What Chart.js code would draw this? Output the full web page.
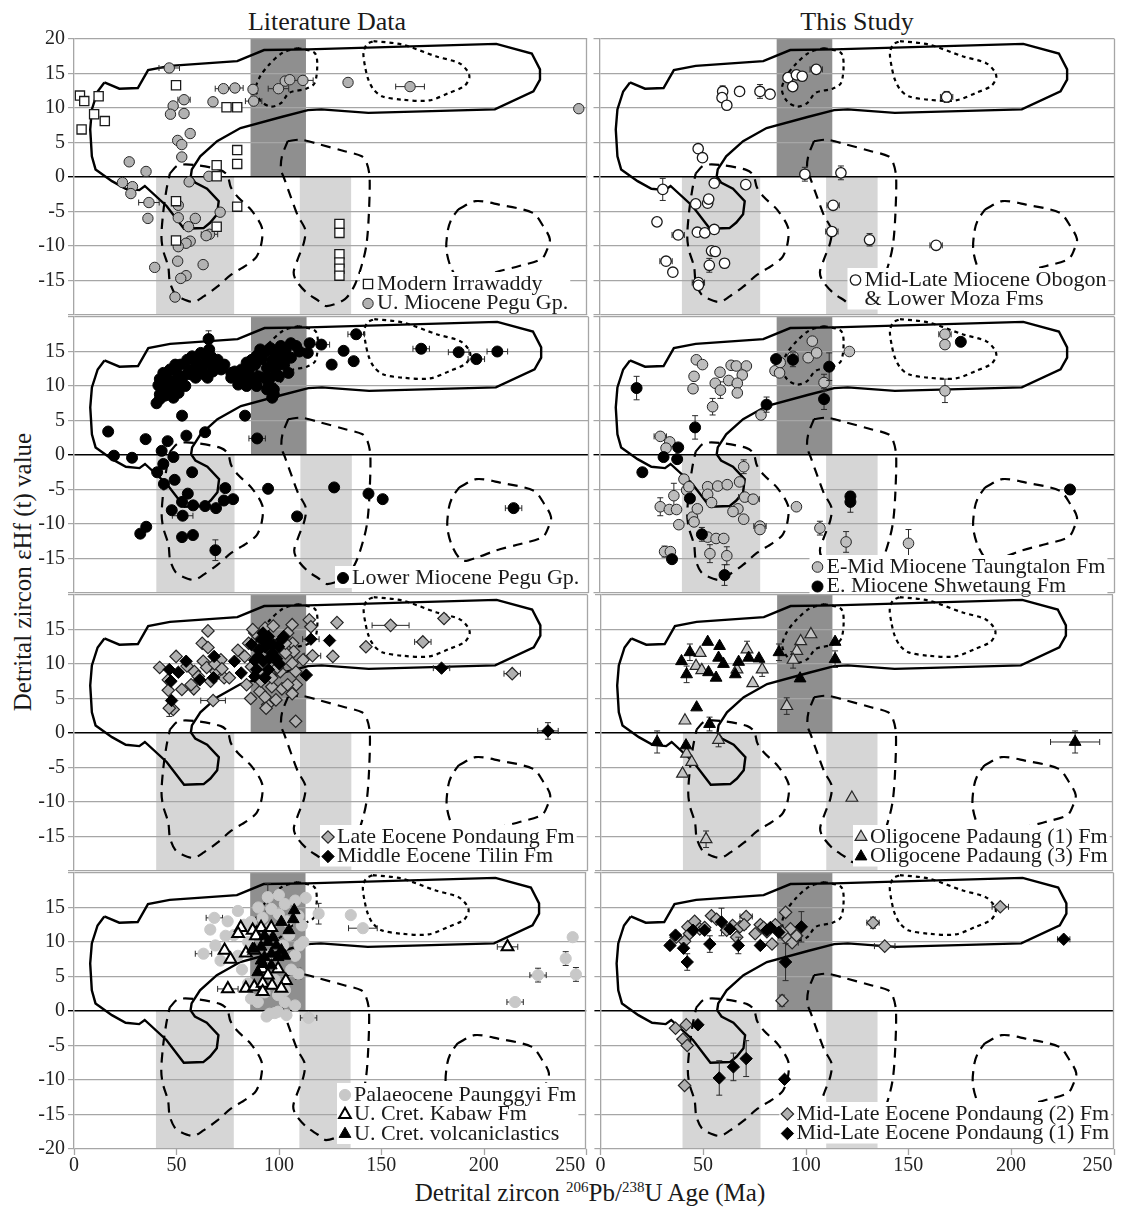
<!DOCTYPE html>
<html>
<head>
<meta charset="utf-8">
<title>Detrital zircon εHf (t) versus U-Pb age</title>
<script src="https://cdn.jsdelivr.net/npm/chart.js@4.4.1/dist/chart.umd.min.js"></script>
<style>
  html, body { margin: 0; padding: 0; background: #ffffff; }
  body { position: relative; width: 1121px; height: 1208px; overflow: hidden;
         font-family: "Liberation Serif", "Times New Roman", serif; color: #1a1a1a; }
  canvas { position: absolute; }
  .lbl { position: absolute; white-space: nowrap; line-height: 1; }
  .lbl sup { font-size: 15px; vertical-align: 0.55em; line-height: 0; }
</style>
</head>
<body>
<div class="lbl" style="left:327px; top:22px; font-size:26px; transform:translate(-50%,-50%);">Literature Data</div>
<div class="lbl" style="left:857px; top:22px; font-size:26px; transform:translate(-50%,-50%);">This Study</div>
<div class="lbl" style="left:22px; top:572px; font-size:25px; transform:translate(-50%,-50%) rotate(-90deg);">Detrital zircon εHf (t) value</div>
<div class="lbl" style="left:590px; top:1192px; font-size:25px; transform:translate(-50%,-50%);">Detrital zircon <sup>206</sup>Pb/<sup>238</sup>U Age (Ma)</div>

<script>
const FONT = '"Liberation Serif", "Times New Roman", serif';

// ---- axis ticks -------------------------------------------------------
const ageTicks = [0, 50, 100, 150, 200, 250];
const hfLabelsTop = [20, 15, 10, 5, 0, -5, -10, -15];
const hfLabelsMid = [15, 10, 5, 0, -5, -10, -15];
const hfLabelsBottom = [15, 10, 5, 0, -5, -10, -15, -20];

// ---- reference age windows (Ma) ----------------------------------------
const lightBands = [[40, 78], [110, 135]];   // shaded below eHf = 0
const darkBand = [86, 113];                   // shaded above eHf = 0

// ---- source-field outlines: [age Ma, eHf] -------------------------------
const solidOutline = [
  [14.8,13.7],[22.1,12.8],[31.1,12.9],[36.1,15.5],[46.7,16.1],[79.5,16.8],[92.6,18.4],
  [113.9,18.5],[205.7,19.3],[223,17.9],[227,15.6],[227,14.1],[223.8,12.4],[205,9.8],
  [143.4,9.3],[120.5,9.8],[113.9,9.7],[101,8.7],[81.1,7.1],[69.7,5.2],[61.5,3.0],
  [57.4,1.1],[56.9,0.1],[59,-0.8],[64.8,-1.7],[70.5,-3.5],[69.7,-5.4],[66.4,-6.6],
  [63.1,-7.4],[53.6,-7.5],[45.1,-4.2],[34.5,-1.3],[31.8,-1.9],[25.2,-1.7],[18.5,-0.6],
  [10.5,1.1],[8.7,3.0],[7.9,6.9],[8.7,9.8],[11.5,12.4],[14.8,13.7]
];
const dottedOutlineA = [
  [109,18.7],[117.2,18.0],[118.5,16.3],[117.2,13.6],[113.1,12.8],[104.9,12.2],[100.8,10.7],
  [95.9,10.2],[91,11.0],[88.5,12.7],[90.7,14.6],[95.1,16.3],[101.6,18.0],[109,18.7]
];
const dottedOutlineB = [
  [145.9,19.7],[159.8,19.2],[176.2,17.5],[187.7,16.5],[191.8,15.3],[192.6,14.4],[190.2,13.2],
  [182.8,12.2],[173,11.1],[159.8,11.2],[150,11.7],[145.9,12.7],[143.4,14.1],[141.8,16.0],
  [141,18.0],[142.6,19.2],[145.9,19.7]
];
const dashedOutlineA = [
  [46.7,0.5],[50.8,1.7],[59.9,1.7],[71.5,1.0],[74.8,0.2],[76.4,-1.5],[79.8,-2.9],[86.4,-4.8],
  [91.5,-7.3],[91.3,-9.6],[88.8,-11.6],[83.9,-12.8],[76.4,-14.2],[69.8,-15.9],[63.2,-17.3],
  [58.3,-18.1],[52.5,-17.6],[49.2,-16.9],[46.7,-15.2],[45.9,-13.0],[43.4,-10.6],[42.6,-8.7],
  [43.4,-5.3],[45,-1.9],[46.7,0.5]
];
const dashedOutlineB = [
  [104.1,5.2],[110.7,5.4],[120,4.7],[131,3.8],[140.2,3.0],[142.6,2.0],[144,0],[143.6,-5.6],
  [142.6,-9.5],[141,-11.9],[137,-15.5],[132,-17.7],[123,-18.7],[118.9,-17.9],[113.1,-16.7],
  [108.2,-15.0],[107,-13.8],[109,-11.9],[112,-9.5],[112.6,-7.6],[109,-5.6],[104.9,-2.3],
  [102.5,-0.3],[100.8,1.1],[101.3,3.0],[104.1,5.2]
];
const dashedOutlineC = [
  [187.2,-4.7],[195.5,-3.5],[207,-4.0],[223.5,-5.2],[228.5,-7.1],[231.8,-9.0],[230.2,-10.7],
  [227.7,-11.9],[216.9,-12.9],[205.4,-13.8],[196.3,-14.8],[188.8,-15.3],[183.9,-13.3],
  [181.4,-10.5],[182.2,-7.6],[183.9,-6.1],[187.2,-4.7]
];

// ---- samples: [age Ma, eHf, ±age, ±eHf] ---------------------------------
const modernIrrawaddy = [
  [2.9,11.8],[5.0,11.0],[12.0,11.7],[9.8,9.1],[15.0,8.1],[3.7,6.9],[49.7,13.3],[74.3,10.1],
  [79.5,10.1],[79.5,3.9],[79.5,1.9],[69.5,1.7],[69.5,0.1],[79.5,-4.3],[69.5,-7.2],[49.7,-3.5],
  [49.7,-9.2],[129.3,-6.8],[129.3,-8.1],[129.3,-11.2],[129.3,-12.4],[129.3,-13.3],[129.3,-14.3]
];
const uMiocenePegu = [
  [46.4,15.8,5,0],[72.8,12.8,4,0],[78.4,12.9,4,0],[87.2,12.7],[87.5,11.0,4,0],[99.6,12.8,5,0],
  [102.9,13.9],[105.1,14.1],[111.5,14.0,5,0],[133.5,13.7],[163.7,13.1,7,0],[245.9,9.9],
  [48.3,10.3],[53.6,11.2,3,0],[47,9.1],[53.6,9.2],[67.7,10.9],[56.6,6.3],[50.5,5.3],[52.5,4.7],
  [52.5,2.9],[26.9,2.2],[35.1,0.8],[23.6,-0.8],[28.5,-1.4],[27.7,-2.4],[36.5,-3.7,5,0],[36,-6.0],
  [56.1,-0.7],[65.7,0.1],[50.8,-4.1],[71.2,-5.1],[50.8,-5.9],[59.1,-6.0],[55.8,-7.2],[66,-8.3,4,0],
  [64.4,-8.5],[56.6,-9.3],[54.6,-9.6],[50.8,-10.1],[39.3,-13.1],[50.5,-12.2],[62.9,-12.7],
  [54.6,-14.3],[52,-14.7],[49.2,-17.4]
];
const obogonMoza = [
  [59.8,12.4,0,0.8],[68,12.4,2,0],[77.9,12.4,0,1],[82.8,12.0,2,0],[59.5,11.5,2,0],[61.8,10.4,2,0],
  [91.5,14.4,2,0],[95.6,14.8],[98.4,14.6,2,0],[93.8,13.1],[105.2,15.6,3,0],[168.5,11.6,3,0.8],
  [47.9,4.1,0,0.6],[50,2.8],[30.7,-1.8,0,1.6],[55.7,-0.9],[71,-1.1],[99.7,0.4,0,1],[117.2,0.6,0,1],
  [113.4,-4.1,3,0],[46.7,-3.9],[52.5,-3.8],[53,-3.2],[55.7,-7.6],[47.5,-8.0],[51.1,-8.1],
  [38.2,-8.4,3,0],[27.9,-6.5,2,0],[112.8,-7.9,3,0],[131.1,-9.1,0,0.9],[163.4,-9.9,3,0],
  [54.4,-10.7],[56.2,-10.8],[60.7,-12.5],[53.3,-12.8,0,1],[32.3,-12.2,3,0],[35.6,-13.8],
  [48,-15.3,3,0.6],[48,-15.7]
];
const lowerMiocenePegu = [
  [65.4,16.8,0,1.2],[40.1,7.5],[52.5,5.7],[83.1,5.7],[16.6,3.4],[34.8,2.3],[45.5,2.0],[54.6,2.8],
  [63.7,3.3],[89,2.4,4,0],[19.4,-0.1],[28.2,-0.4],[42.6,0.6],[48.3,-0.3],[43.4,-1.3],[40.4,-2.5],
  [43.7,-4.2],[48.9,-3.6],[57.4,-2.5],[55.3,-5.6],[73.5,-4.8],[94.3,-4.9],[126.4,-4.7],
  [143.1,-5.6],[150,-6.4],[52.5,-6.8],[57.9,-7.3],[63.7,-7.4],[69,-7.7],[77.3,-6.4],[72.8,-6.6],
  [47.5,-8.0],[52.8,-8.8,5,0],[108.4,-8.9],[213.6,-7.7,4,0],[35.1,-10.4],[32.2,-11.4],
  [52.5,-11.9],[57.8,-11.6],[68.7,-13.8,0,1.5],
  [137.1,17.5,4,0],[120.2,16.0,4,0],[131,15.1],[125.2,13.1],[135.9,13.6],[168.7,15.4,4,0],
  [186.9,14.9,5,0],[195.5,13.9,4,0],[205.7,15.0,5,0],[113.6,14.8],[114.5,16.2],[105.4,16.2],
  [104.2,11.9],[96.3,8.3],
  [57.4,14.3],[61.6,14.8],[65.7,15.3],[69.8,13.8],[73.1,13.1],[64.9,13.3],[59.1,12.6],[63.2,11.7],
  [64.9,11.2],[67.4,12.1],[49.2,13.1],[51.7,13.1],[55.8,12.4],[56.6,11.7],[45.0,11.4],[43.4,10.0],
  [41,10.1],[48.3,10.6],[49.9,9.9],[51.7,10.6],[46.7,9.3],[44.2,8.6],[48.3,8.3],[45.0,10.7],
  [50.8,9.0],[41.7,8.8],
  [41.7,11.0],[43.4,11.9],[46.7,12.4],[50.0,11.9],[53.3,11.4],[55.0,13.8],[58.3,13.8],[59.9,13.4],
  [60.7,12.2],[62.4,12.6],[66.5,14.3],[68.2,12.9],[71.5,12.4],[64.0,14.3],[59.1,11.2],[54.1,10.0],
  [49.2,9.3],[45.9,10.0],[43.4,9.3],[41.7,8.1],
  [76.4,11.2],[79.8,10.2],[83.1,11.9],[85.5,12.6],[88,13.1],[89.6,11.4],[91.3,13.9],[92.9,15.0],
  [95.4,15.5],[97.9,14.6],[100.5,15.8],[102.9,15.3],[99.6,13.4],[93.8,12.6],[84.7,10.5],[88.8,10.0],
  [94.6,10.3],[97.1,9.5],[81.4,11.2],[86.4,11.2],[92.1,11.2],[99.6,11.4],[78.1,12.1],[105.4,14.1],
  [88.8,14.4],
  [76.4,11.9],[78.9,11.4],[81.4,12.4],[83.9,13.4],[86.4,13.8],[90.5,15.3],[96.3,13.8],[97.9,12.4],
  [101.2,14.3],[102.1,13.1],[83.9,10.0],[87.2,10.7],[95.4,11.2],[93.8,9.5],[97.1,8.8],[107.9,15.8],
  [109.5,15.0]
];
const taungtalon = [
  [47,13.8],[50,13.1],[45.9,11.4],[45.4,9.6],[54.9,7.0,0,1.2],[56.2,10.4],[58.7,9.4,0,1.2],[58.5,12.0],
  [63.9,13.0],[66.4,12.9],[71.3,12.9],[69.3,11.6],[62.7,10.8],[66.9,10.4],[66.9,9.0],[85.2,12.2],
  [87.7,13.4],[87.4,11.9],[93.9,14.3],[101.3,14.1],[103.3,16.5],[105.4,14.8],[109,10.5,0,1.2],
  [121.3,15.0],[167.7,17.5,3,0],[167.7,16.0],[167.7,9.3,0,1.7],[78.4,5.8],[29.5,2.7,3,0],[34.1,1.9],
  [32.3,1.0],[70,-1.7,0,1],[41,-3.5],[36.1,-5.9,0,1.8],[42.3,-5.1],[43.4,-4.6],[52.5,-4.6],
  [57.4,-4.5],[62,-4.3],[68,-3.9],[52.5,-5.7],[54.4,-6.9],[70.5,-6.1,3,0],[74.6,-6.4,3,0],
  [67.2,-7.8],[64.8,-8.2],[70,-9.3],[77.9,-10.3,3,0],[77.9,-10.8],[95.6,-7.5],[29.5,-7.5,0,1.3],
  [33.9,-7.9],[37.4,-7.9],[38.5,-10.1],[45.1,-9.0],[45.9,-9.7],[47.5,-7.8],[52.5,-11.9],
  [56.6,-12.1],[60.3,-12.1],[53.6,-14.3,0,1.3],[61.8,-14.6,0,1.3],[31.6,-14.0,0,0.8],[34.4,-14.0],
  [107,-10.6,0,1],[119.7,-12.6,0,1.5],[150,-12.8,0,2]
];
const shwetaung = [
  [18,9.7,0,1.7],[46.4,4.0,0,1.7],[81.1,7.3,0,1.1],[85.7,13.9],[93.9,13.8,0,1],[111.5,12.8,0,2],
  [109,8.1,0,1.5],[175.4,16.4],[38.2,1.1],[31.1,-0.3],[37.7,-0.6],[20.8,-2.5],[43.9,-6.3],
  [49.7,-11.5,0,1],[35.2,-15.1],[60.7,-17.4,0,1.5],[121.8,-6.0],[121.8,-6.8,0,1.5],[228.4,-5.0]
];
const pondaungLate = [
  [65.2,14.8],[62.4,13.0],[65.2,12.4],[49.7,11.1],[41.7,9.5],[45.9,7.7],[52.5,6.3],[58.3,6.4],
  [45.9,6.2],[48.3,3.4],[46.4,3.6,0,1.2],[67.7,4.7,6,0],[58.6,8.9],[62.9,10.4],[64.6,9.5],[69,8.9],
  [66.5,7.5],[71.5,10.6],[73.1,8.0],[75.6,8.0],[79.8,12.0],[83.1,11.1],[88,14.5],[93,15.2],
  [106.2,15.7],[114.5,16.4],[115.3,15.4],[128,16.0],[106.4,13.0],[106.9,11.8],[111.5,10.6],
  [116.1,11.2,4,0],[126,11.1],[154.1,15.6,9,0],[169.8,13.2,4,0],[180.1,16.6],[142.1,12.5],
  [213.3,8.6,4,0],[107.9,1.7],[107.9,8.9],[108.2,7.0],[106.2,5.7],[101.2,6.4],[96.3,6.7],
  [90.5,6.0],[94.3,4.1],[98.3,4.8],[93,5.2],[100.4,8.9],[96.3,8.0],[89.7,8.9],[86.4,9.6],
  [102.9,11.6],[106.2,10.1],[93.5,3.6],[102.9,13.0],[55,9.7],[60.5,8.2],[68.5,10.0],[72,9.3],[57,7.0],
  [85,13],[87,15],[97,15.5],[104,14.5],[99,9.5],[91,7.5],[104,7],[84,7],[86,5]
];
const tilin = [
  [46.4,9.2],[50.8,8.8],[54.6,10.4],[47.2,7.5],[47.5,4.7],[61.2,7.7],[68.2,11.1],[67.9,8.0],
  [78.1,10.4],[81.4,8.7],[86.4,12.8],[88.8,9.2],[91.3,13.5],[94.6,14.0],[93,12.5],[96.3,11.6],
  [89.7,11.1],[92.1,10.4],[94.6,9.2],[88,8.2],[93,8.0],[102.1,14.0],[99.6,12.5],[115.3,13.6,4,0],
  [124.4,13.4],[113.1,8.4],[178.9,9.4,4,0],[230.7,0.3,5,1.2],
  [90,12],[95,13],[98,11],[100,10],[92,14.5],[97,12.8],[101,13.5],[88,10.5],[95,10.8]
];
const padaung1 = [
  [102.5,14.3],[97.5,13.3],[95.6,11.9],[93.8,10.6,0,1.2],[48.4,11.6],[46.4,9.7],[49.2,9.1],
  [71.3,12.1,0,1.2],[66.4,9.2],[78.7,9.2,0,1],[74.1,7.2],[90.7,3.9,0,1.2],[41,1.8],[57.4,-1.0,0,1],
  [41.8,-3.0],[44.3,-4.2],[39.8,-5.9],[122.5,-9.4],[51.3,-15.4,0,1.2]
];
const padaung3 = [
  [52.1,13.2],[57.9,12.6],[43.4,11.7,0,1.2],[39.3,10.4],[57.4,10.9],[59.8,10.0],[52.5,8.8],
  [56.2,8.0],[41.8,8.5,0,1.2],[65.6,8.5],[67.2,10.3],[72.1,10.9],[77.1,10.8],[86.9,11.7,0,1.2],
  [114.3,13.2],[114.3,10.7,0,1.2],[97.2,7.9],[46.7,3.7],[53,1.3,0,1],[27.4,-1.3,0,1.6],[41.5,-1.8],
  [231.5,-1.3,12,1.6]
];
const paunggyi = [
  [68.5,13.5,4,0],[66.5,11.8],[63.2,8.3,4,0],[69,9.5],[71.5,7.3],[74,10.9],[94.6,16.5,0,2],
  [102.9,15.5],[113.1,16.4],[119.4,14.1,0,1.5],[135.1,13.9],[141,12.0,7,0],[96.3,14.8],[86.4,12.9],
  [109.5,13.8],[111.2,12.4],[102.1,9.5],[107.9,8.0],[109.5,5.4,0,0.8],[89.7,1.3],[95.5,-0.4],
  [99.6,-0.1],[103.7,-0.6],[107.9,0.8],[114.5,-1.0,4,0],[243.4,10.7],[240,7.6,0,1],[245,5.3,0,1],
  [226.5,5.2,4,1],[215.3,1.3,4,0],[86.4,1.8],[93,2.7],[99.6,2.3],[102.9,1.3],[80,14.5],[85,10],
  [90,15],[100,14],[105,11],[95,8],[82,6],[103,3],[110,9.5],[78,11],[94,-0.8],[98,-0.3],
  [96,12],[104,13],[92,13.5],[108,16],[100,16.8],[112,10],[106,6],[98,4.5],[85,4],[80,8],[83,12.5],[75,13]
];
const kabaw = [
  [81.4,12.1],[80.1,11.2],[87.2,11.7],[91.3,12.1],[96.3,12.1],[88.8,10.9],[73.5,8.8],[76.4,7.5],
  [83.9,8.4],[88,8.8],[92.1,6.1],[94.6,5.2],[103.4,4.4],[75.1,3.2,5,0],[83.9,3.3],[88,3.5],
  [92.1,4.0],[92.1,2.8],[96.7,3.7],[101.2,3.3],[211.6,9.3,5,0],[99.6,6.1]
];
const volcaniclastics = [
  [107.5,14.6],[107,13.3],[101.2,12.9],[104.9,11.7],[93,10.9],[97.1,10.7],[98.8,9.5],[94.6,10.0],
  [91.3,9.3],[101.2,8.8],[96.3,8.3],[93,7.8],[99.6,7.8],[91.3,7.3],[102.9,8.0],[96.3,6.6],
  [89.7,5.6],[92.1,6.8],[87.2,9.0]
];
const pondaung2 = [
  [42.6,12.2],[45.9,13.0],[43.4,11.2],[41,10.1],[48.4,11.9],[54.1,13.8],[50.8,12.1],[61.5,11.7],
  [64.4,12.4],[68,12.2,3,0],[71,13.7,3,0],[70,12.5],[66.4,10.7],[75.4,11.2],[77.9,12.5],[81.1,11.5],
  [85.2,12.5],[83.6,9.7],[90.2,14.3],[90.7,10.6],[93.4,9.9,3,0],[95.6,10.9],[92.6,11.9],[88.5,11.4],
  [79.5,12.1],[194.8,15.1,4,0],[132.8,12.8,3,0.8],[138.5,9.4,5,0],[88.5,1.5,0,0.8],[36.6,-2.5],
  [41.8,-2.0],[40.2,-4.1],[42.3,-5.0],[41,-10.8],[56.6,13.3],[36.9,10.7]
];
const pondaung1 = [
  [36.6,11.0],[33.9,9.5],[40.5,9.1],[42.3,7.1,0,1.2],[50.8,11.7],[53.3,9.7,0,1.2],[59,12.9,0,2],
  [67.2,9.5,0,1.2],[77.9,9.5],[81.1,11.7],[86.9,11.4],[82.8,12.1],[90.2,7.1,0,2.7],[97.9,12.2,0,2.2],
  [225.7,10.4,3,0],[47.5,-2.0],[57.9,-9.7,0,2.5],[64.8,-8.1,0,2],[71,-6.9,0,2.6],[89.7,-9.9],
  [45.1,11.7],[63.1,11.9]
];

// ---- marker styles -------------------------------------------------------
const STY = {
  openSquare:    { shape: 'rect',     r: 6.5, fill: '#ffffff', stroke: '#1a1a1a', lw: 1.3 },
  greyCircle:    { shape: 'circle',   r: 5.2, fill: '#b2b2b2', stroke: '#262626', lw: 1 },
  openCircle:    { shape: 'circle',   r: 5.2, fill: '#ffffff', stroke: '#1a1a1a', lw: 1.3 },
  blackCircle:   { shape: 'circle',   r: 5.5, fill: '#000000', stroke: '#000000', lw: 1 },
  greyCircle2:   { shape: 'circle',   r: 5.3, fill: '#bdbdbd', stroke: '#262626', lw: 1 },
  paleCircle:    { shape: 'circle',   r: 5.6, fill: '#c8c8c8', stroke: '#c8c8c8', lw: 1 },
  greyDiamond:   { shape: 'rectRot',  r: 6.2, fill: '#b0b0b0', stroke: '#262626', lw: 1.2 },
  blackDiamond:  { shape: 'rectRot',  r: 6.2, fill: '#000000', stroke: '#000000', lw: 1 },
  greyTriangle:  { shape: 'triangle', r: 6.8, fill: '#c4c4c4', stroke: '#262626', lw: 1.2 },
  openTriangle:  { shape: 'triangle', r: 6.8, fill: '#ffffff', stroke: '#000000', lw: 2 },
  blackTriangle: { shape: 'triangle', r: 6.8, fill: '#000000', stroke: '#000000', lw: 1 }
};

// ---- panel layout ---------------------------------------------------------
const COLS = [
  { left: 0,   width: 595, axisW: 74, padR: 6 },
  { left: 593, width: 528, axisW: 6,  padR: 6 }
];
const ROW_ZERO = [177, 455, 733, 1011];
const HALF = 138, PAD = 22, XPAD = 52;

const panels = [
  { row: 0, col: 0, yLabels: hfLabelsTop,
    series: [ { rows: modernIrrawaddy, st: STY.openSquare },
              { rows: uMiocenePegu, st: STY.greyCircle } ],
    legend: { mx: 294, y0: 244, rows: [['Modern Irrawaddy', 0], ['U. Miocene Pegu Gp.', 1]] } },
  { row: 0, col: 1, yLabels: null,
    series: [ { rows: obogonMoza, st: STY.openCircle } ],
    legend: { mx: 256, y0: 240, rows: [['Mid-Late Miocene Obogon', 0], ['& Lower Moza Fms', null]] } },
  { row: 1, col: 0, yLabels: hfLabelsMid,
    series: [ { rows: lowerMiocenePegu, st: STY.blackCircle } ],
    legend: { mx: 269, y0: 260, rows: [['Lower Miocene Pegu Gp.', 0]] } },
  { row: 1, col: 1, yLabels: null,
    series: [ { rows: shwetaung, st: STY.blackCircle },
              { rows: taungtalon, st: STY.greyCircle2 } ],
    legend: { mx: 218, y0: 249, rows: [['E-Mid Miocene Taungtalon Fm', 1], ['E. Miocene Shwetaung Fm', 0]] } },
  { row: 2, col: 0, yLabels: hfLabelsMid,
    series: [ { rows: tilin, st: STY.blackDiamond },
              { rows: pondaungLate, st: STY.greyDiamond } ],
    legend: { mx: 254, y0: 241, rows: [['Late Eocene Pondaung Fm', 1], ['Middle Eocene Tilin Fm', 0]] } },
  { row: 2, col: 1, yLabels: null,
    series: [ { rows: padaung3, st: STY.blackTriangle },
              { rows: padaung1, st: STY.greyTriangle } ],
    legend: { mx: 260, y0: 241, rows: [['Oligocene Padaung (1) Fm', 1], ['Oligocene Padaung (3) Fm', 0]] } },
  { row: 3, col: 0, yLabels: hfLabelsBottom, xAxis: true,
    series: [ { rows: volcaniclastics, st: STY.blackTriangle },
              { rows: kabaw, st: STY.openTriangle },
              { rows: paunggyi, st: STY.paleCircle } ],
    legend: { mx: 271, y0: 221, rows: [['Palaeocene Paunggyi Fm', 2], ['U. Cret. Kabaw Fm', 1], ['U. Cret. volcaniclastics', 0]] } },
  { row: 3, col: 1, yLabels: null, xAxis: true,
    series: [ { rows: pondaung1, st: STY.blackDiamond },
              { rows: pondaung2, st: STY.greyDiamond } ],
    legend: { mx: 187, y0: 240, rows: [['Mid-Late Eocene Pondaung (2) Fm', 1], ['Mid-Late Eocene Pondaung (1) Fm', 0]] } }
];

// ---- helpers ---------------------------------------------------------------
const toPts = arr => arr.map(r => ({ x: r[0], y: r[1] }));

function drawMarker(ctx, st, x, y) {
  const r = st.r;
  ctx.save();
  ctx.beginPath();
  if (st.shape === 'circle') {
    ctx.arc(x, y, r, 0, Math.PI * 2);
  } else if (st.shape === 'rect') {
    const s = r * Math.SQRT1_2;
    ctx.rect(x - s, y - s, 2 * s, 2 * s);
  } else if (st.shape === 'rectRot') {
    ctx.moveTo(x, y - r); ctx.lineTo(x + r, y); ctx.lineTo(x, y + r); ctx.lineTo(x - r, y); ctx.closePath();
  } else {
    for (let i = 0; i < 3; i++) {
      const a = -Math.PI / 2 + i * 2 * Math.PI / 3;
      const px = x + Math.cos(a) * r, py = y + Math.sin(a) * r;
      if (i === 0) ctx.moveTo(px, py); else ctx.lineTo(px, py);
    }
    ctx.closePath();
  }
  ctx.fillStyle = st.fill; ctx.fill();
  ctx.lineWidth = st.lw; ctx.strokeStyle = st.stroke; ctx.stroke();
  ctx.restore();
}

function outlineSets() {
  const base = { showLine: true, fill: false, pointRadius: 0, pointHoverRadius: 0, borderColor: '#000000', order: 20 };
  return [
    Object.assign({}, base, { data: toPts(solidOutline), borderWidth: 2.4, tension: 0 }),
    Object.assign({}, base, { data: toPts(dottedOutlineA), borderWidth: 2.2, borderDash: [4, 4], tension: 0.3 }),
    Object.assign({}, base, { data: toPts(dottedOutlineB), borderWidth: 2.2, borderDash: [4, 4], tension: 0.3 }),
    Object.assign({}, base, { data: toPts(dashedOutlineA), borderWidth: 2.2, borderDash: [10, 7], tension: 0.3 }),
    Object.assign({}, base, { data: toPts(dashedOutlineB), borderWidth: 2.2, borderDash: [10, 7], tension: 0.3 }),
    Object.assign({}, base, { data: toPts(dashedOutlineC), borderWidth: 2.2, borderDash: [10, 7], tension: 0.3 })
  ];
}

// shaded age windows, drawn underneath the grid
const bandPlugin = {
  id: 'ageBands',
  beforeDraw(chart) {
    const { ctx, scales: { x, y } } = chart;
    ctx.save();
    const y0 = y.getPixelForValue(0), yMin = y.getPixelForValue(-20), yMax = y.getPixelForValue(20);
    ctx.fillStyle = '#d6d6d6';
    for (const b of lightBands) {
      const x1 = x.getPixelForValue(b[0]), x2 = x.getPixelForValue(b[1]);
      ctx.fillRect(x1, y0, x2 - x1, yMin - y0);
    }
    ctx.fillStyle = '#8f8f8f';
    const d1 = x.getPixelForValue(darkBand[0]), d2 = x.getPixelForValue(darkBand[1]);
    ctx.fillRect(d1, yMax, d2 - d1, y0 - yMax);
    ctx.restore();
  }
};

// age / eHf uncertainty whiskers, drawn just before each sample set
const errorBarPlugin = {
  id: 'errorBars',
  beforeDatasetDraw(chart, args) {
    const ds = chart.data.datasets[args.index];
    if (!ds.rows) return;
    const { ctx, scales: { x, y } } = chart;
    const cap = 3;
    ctx.save();
    ctx.strokeStyle = '#2a2a2a';
    ctx.lineWidth = 1;
    ctx.beginPath();
    for (const r of ds.rows) {
      const xe = r[2] || 0, ye = r[3] || 0;
      const px = x.getPixelForValue(r[0]), py = y.getPixelForValue(r[1]);
      if (xe) {
        const a = x.getPixelForValue(r[0] - xe), b = x.getPixelForValue(r[0] + xe);
        ctx.moveTo(a, py); ctx.lineTo(b, py);
        ctx.moveTo(a, py - cap); ctx.lineTo(a, py + cap);
        ctx.moveTo(b, py - cap); ctx.lineTo(b, py + cap);
      }
      if (ye) {
        const a = y.getPixelForValue(r[1] - ye), b = y.getPixelForValue(r[1] + ye);
        ctx.moveTo(px, a); ctx.lineTo(px, b);
        ctx.moveTo(px - cap, a); ctx.lineTo(px + cap, a);
        ctx.moveTo(px - cap, b); ctx.lineTo(px + cap, b);
      }
    }
    ctx.stroke();
    ctx.restore();
  }
};

function makeLegendPlugin(p) {
  return {
    id: 'panelLegend',
    afterDatasetsDraw(chart) {
      const { ctx, chartArea: a } = chart;
      const lg = p.legend, dy = 19.5;
      const mx = a.left + lg.mx, tx = mx + 9;
      ctx.save();
      ctx.font = '22px ' + FONT;
      let w = 0;
      for (const row of lg.rows) w = Math.max(w, ctx.measureText(row[0]).width);
      const top = a.top + lg.y0 - 11, bottom = a.top + lg.y0 + (lg.rows.length - 1) * dy + 11;
      ctx.fillStyle = '#ffffff';
      ctx.fillRect(mx - 8, top, Math.min(tx + w + 2, a.right - 1) - (mx - 8), bottom - top);
      ctx.textBaseline = 'middle';
      ctx.textAlign = 'left';
      lg.rows.forEach((row, i) => {
        const yy = a.top + lg.y0 + i * dy;
        if (row[1] !== null) drawMarker(ctx, p.series[row[1]].st, mx, yy + 1);
        ctx.fillStyle = '#1a1a1a';
        ctx.fillText(row[0], tx, yy + 1);
      });
      ctx.restore();
    }
  };
}

// right-hand frame edge of the plot area
const framePlugin = {
  id: 'frame',
  afterDraw(chart) {
    const { ctx, chartArea: a } = chart;
    ctx.save();
    ctx.strokeStyle = '#a6a6a6';
    ctx.lineWidth = 1.3;
    ctx.beginPath();
    ctx.moveTo(Math.round(a.right) - 0.5, a.top);
    ctx.lineTo(Math.round(a.right) - 0.5, a.bottom);
    ctx.stroke();
    ctx.restore();
  }
};

// age axis ticks and labels under the bottom row
const ageAxisPlugin = {
  id: 'ageAxis',
  afterDraw(chart) {
    const { ctx, chartArea: a, scales: { x } } = chart;
    ctx.save();
    ctx.strokeStyle = '#a6a6a6';
    ctx.lineWidth = 1.3;
    ctx.beginPath();
    for (const v of ageTicks) {
      const px = Math.round(x.getPixelForValue(v)) + 0.5;
      ctx.moveTo(px, a.bottom); ctx.lineTo(px, a.bottom + 6);
    }
    ctx.stroke();
    ctx.fillStyle = '#222222';
    ctx.font = '20px ' + FONT;
    ctx.textBaseline = 'middle';
    for (const v of ageTicks) {
      const px = x.getPixelForValue(v);
      if (v === ageTicks[ageTicks.length - 1]) { ctx.textAlign = 'right'; ctx.fillText(String(v), px - 1, a.bottom + 17); }
      else { ctx.textAlign = 'center'; ctx.fillText(String(v), px, a.bottom + 17); }
    }
    ctx.restore();
  }
};

// ---- build the eight panels -------------------------------------------------
for (const p of panels) {
  const col = COLS[p.col];
  const top = ROW_ZERO[p.row] - HALF - PAD;
  const padB = p.xAxis ? XPAD : PAD;
  const h = 2 * HALF + PAD + padB;
  const cv = document.createElement('canvas');
  cv.width = col.width; cv.height = h;
  cv.style.left = col.left + 'px'; cv.style.top = top + 'px';
  cv.style.width = col.width + 'px'; cv.style.height = h + 'px';
  document.body.appendChild(cv);

  const sampleSets = p.series.map((s, i) => ({
    data: toPts(s.rows),
    rows: s.rows,
    showLine: false,
    pointStyle: s.st.shape,
    pointRadius: s.st.r,
    pointHoverRadius: s.st.r,
    pointBackgroundColor: s.st.fill,
    pointBorderColor: s.st.stroke,
    pointBorderWidth: s.st.lw,
    order: i + 1
  }));

  const plugins = [bandPlugin, errorBarPlugin, makeLegendPlugin(p), framePlugin];
  if (p.xAxis) plugins.push(ageAxisPlugin);

  new Chart(cv, {
    type: 'scatter',
    data: { datasets: sampleSets.concat(outlineSets()) },
    options: {
      responsive: false,
      animation: false,
      devicePixelRatio: 1,
      events: [],
      layout: { padding: { left: 0, right: col.padR, top: PAD, bottom: padB } },
      plugins: { legend: { display: false }, tooltip: { enabled: false } },
      scales: {
        x: { type: 'linear', min: 0, max: 250, display: false },
        y: {
          type: 'linear', min: -20, max: 20,
          afterFit(scale) { scale.width = col.axisW; },
          ticks: {
            stepSize: 5,
            display: !!p.yLabels,
            padding: 3,
            color: '#222222',
            font: { family: FONT, size: 20 },
            callback: v => (p.yLabels && p.yLabels.includes(v)) ? String(v) : ''
          },
          grid: {
            color: c => (c.tick && c.tick.value === 0) ? '#000000' : '#a6a6a6',
            lineWidth: c => (c.tick && c.tick.value === 0) ? 1.4 : 1.2,
            tickLength: 6,
            drawTicks: true
          },
          border: { display: true, color: '#a6a6a6', width: 1.3 }
        }
      }
    },
    plugins
  });
}
</script>
</body>
</html>
